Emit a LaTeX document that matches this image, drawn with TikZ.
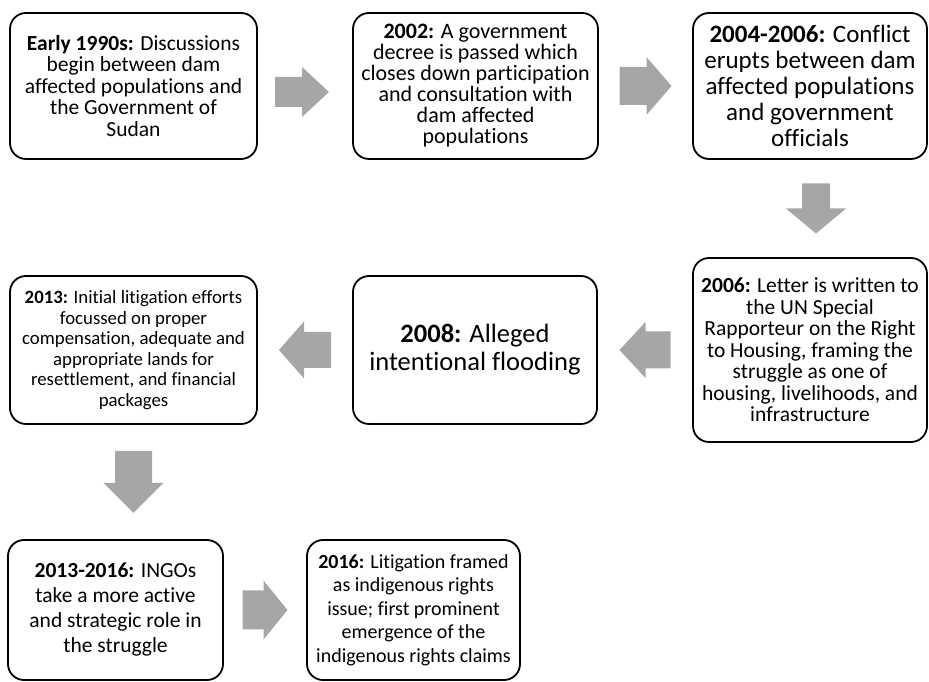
\documentclass[tikz,border=0pt]{standalone}
\usepackage{fontspec}
\setmainfont[Ligatures=NoCommon]{Carlito}
\usetikzlibrary{calc}
\tikzset{>=latex,%
  evbox/.style={draw,line width=1.8pt,rounded corners=16pt,align=center,inner sep=0pt},%
  pics/barrow/.style n args={4}{code={\fill[black!35] (-#1/2,-#2/2) -- (#1/2-#4,-#2/2)
    -- (#1/2-#4,-#3/2) -- (#1/2,0) -- (#1/2-#4,#3/2) -- (#1/2-#4,#2/2) -- (-#1/2,#2/2) -- cycle;}}}
\newcommand{\fsz}[2]{\fontsize{#1}{#2}\selectfont}

\begin{document}
\begin{tikzpicture}[x=1pt,y=1pt]
    \useasboundingbox (0,0) rectangle (929,682);
    \node[evbox,minimum width=247pt,minimum height=146pt,font=\fsz{21.5}{21.5}] (b1) at (133.5,596)
      {\textbf{Early 1990s:} Discussions\\begin between dam\\affected populations and\\the Government of\\Sudan};
    \node[evbox,minimum width=245pt,minimum height=146pt,font=\fsz{22}{21}] (b2) at (475.5,596)
      {\textbf{2002:} A government\\decree is passed which\\closes down participation\\and consultation with\\dam affected\\populations};
    \node[evbox,minimum width=234pt,minimum height=146pt,font=\fsz{25}{26}] (b3) at (810,596)
      {\textbf{2004-2006:} Conflict\\erupts between dam\\affected populations\\and government\\officials};
    \node[evbox,minimum width=234pt,minimum height=184pt,font=\fsz{21.5}{21.5}] (b4) at (810,332)
      {\textbf{2006:} Letter is written to\\the UN Special\\Rapporteur on the Right\\to Housing, framing the\\struggle as one of\\housing, livelihoods, and\\infrastructure};
    \node[evbox,minimum width=244pt,minimum height=148pt,font=\fsz{26.5}{28}] (b5) at (475,332)
      {\textbf{2008:} Alleged\\intentional flooding};
    \node[evbox,minimum width=247pt,minimum height=148pt,font=\fsz{18.8}{20.5}] (b6) at (133.5,332)
      {\textbf{2013:} Initial litigation efforts\\focussed on proper\\compensation, adequate and\\appropriate lands for\\resettlement, and financial\\packages};
    \node[evbox,minimum width=215pt,minimum height=140pt,font=\fsz{21.5}{25}] (b7) at (115.5,72)
      {\textbf{2013-2016:} INGOs\\take a more active\\and strategic role in\\the struggle};
    \node[evbox,minimum width=213pt,minimum height=140pt,font=\fsz{20}{23.5}] (b8) at (413.5,72)
      {\textbf{2016:} Litigation framed\\as indigenous rights\\issue; first prominent\\emergence of the\\indigenous rights claims};
    \pic at ($($(b1.east)!.5!(b2.west)$)+(-3,-6)$) {barrow={54}{30}{50}{27}};
    \pic at ($(b2.east)!.5!(b3.west)$) {barrow={52}{38}{58}{25}};
    \pic[rotate=-90] at ($($(b3.south)!.5!(b4.north)$)+(6,0)$) {barrow={50}{28}{60}{25}};
    \pic[rotate=180] at ($(b4.west)!.5!(b5.east)$) {barrow={51}{37}{56}{26}};
    \pic[rotate=180] at ($(b5.west)!.5!(b6.east)$) {barrow={52}{36}{57}{25}};
    \pic[rotate=-90] at ($(b6.south)!.5!(b6.south|-b7.north)$) {barrow={62}{37}{60}{30}};
    \pic at ($(b7.east)!.5!(b8.west)$) {barrow={45}{39}{59}{24}};
\end{tikzpicture}
\end{document}
